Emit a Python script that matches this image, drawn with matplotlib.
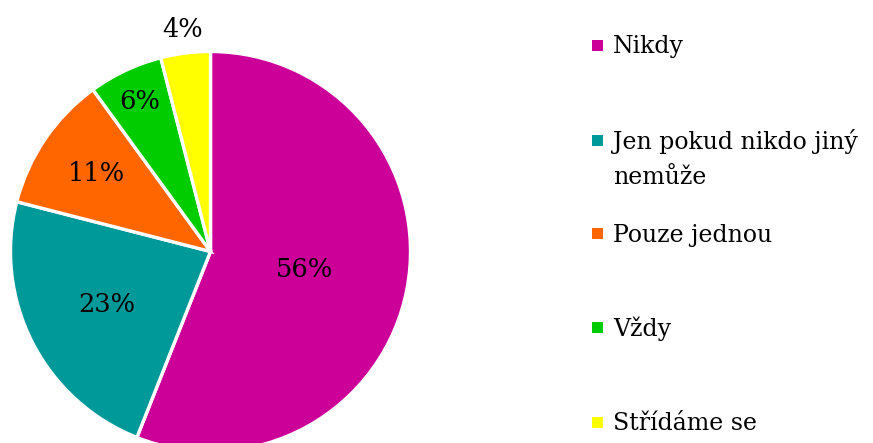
import numpy as np
import matplotlib.pyplot as plt
from matplotlib.patches import Rectangle

categories = ["Nikdy", "Jen pokud nikdo jiný\nnemůže", "Pouze jednou", "Vždy", "Střídáme se"]
shares = [56, 23, 11, 6, 4]
colors = ["#CC0099", "#009999", "#FF6600", "#00CC00", "#FFFF00"]

W, H = 873, 443
fig = plt.figure(figsize=(W / 100, H / 100), dpi=100)
plt.rcParams["font.family"] = ["DejaVu Serif"]

# pie axes: center (210.5, 251.5) px from top-left, radius 200 px
cx, cy, r = 210.5, 251.5, 200
ax = fig.add_axes([(cx - r) / W, (H - cy - r) / H, 2 * r / W, 2 * r / H])
wedges, _ = ax.pie(
    shares,
    colors=colors,
    startangle=90,
    counterclock=False,
    radius=1,
    wedgeprops=dict(edgecolor="white", linewidth=2.4),
)
ax.set_xlim(-1, 1)
ax.set_ylim(-1, 1)
ax.set_aspect("auto")
ax.axis("off")

# percentage labels placed along each wedge's middle angle
label_dist = [0.48, 0.58, 0.69, 0.83, 1.12]
for w, val, d in zip(wedges, shares, label_dist):
    ang = np.deg2rad((w.theta1 + w.theta2) / 2)
    ax.text(d * np.cos(ang), d * np.sin(ang), f"{val}%",
            ha="center", va="center", fontsize=18.5, color="black",
            clip_on=False)

# legend drawn on the right side
sq = 11
sq_x = 592
text_x = 613
sq_y = [45, 140, 233.5, 327.5, 422]
for label, col, y in zip(categories, colors, sq_y):
    fig.patches.append(Rectangle(((sq_x) / W, (H - y - sq / 2) / H), sq / W, sq / H,
                                 transform=fig.transFigure, facecolor=col,
                                 edgecolor="none"))
    for i, line in enumerate(label.split("\n")):
        fig.text(text_x / W, (H - (y + 8.5 + i * 35)) / H, line,
                 ha="left", va="baseline", fontsize=17, color="black")

fig.savefig("out.png", dpi=100)
